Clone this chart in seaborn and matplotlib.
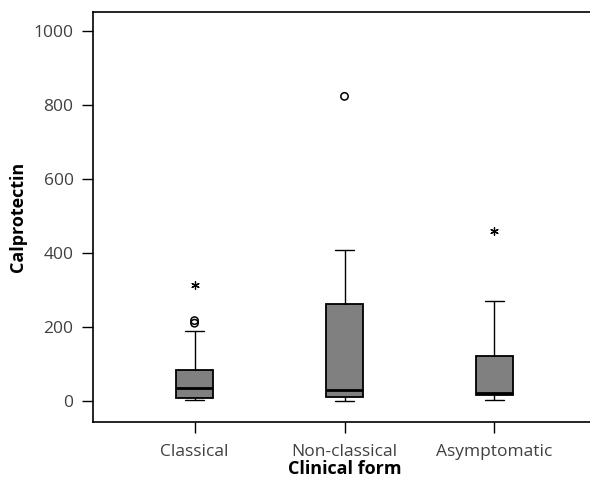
import matplotlib
matplotlib.use("Agg")
import matplotlib.pyplot as plt
import seaborn as sns
import pandas as pd

# Box statistics
groups = ["Classical", "Non-classical", "Asymptomatic"]
whisker_low = [3, 1, 3]
q1 = [8, 10, 16]
median = [36, 30, 22]
q3 = [83, 263, 121]
whisker_high = [188, 409, 271]

# outliers (circles) and extremes (stars)
outlier_group = ["Classical", "Classical", "Non-classical"]
outlier_value = [210, 217, 823]
extreme_group = ["Classical", "Asymptomatic"]
extreme_value = [313, 458]

sns.set_style("ticks")
plt.rcParams['font.family'] = ['Open Sans', 'DejaVu Sans']

fig = plt.figure(figsize=(5.9, 4.84), dpi=100)
ax = fig.add_axes([0.1576, 0.1281, 0.8526, 0.8471])

stats = []
for i, g in enumerate(groups):
    stats.append({
        'label': g,
        'whislo': whisker_low[i],
        'q1': q1[i],
        'med': median[i],
        'q3': q3[i],
        'whishi': whisker_high[i],
        'fliers': [],
    })

ax.bxp(stats, positions=range(len(groups)), widths=0.25, patch_artist=True,
       showfliers=False,
       boxprops=dict(facecolor='#808080', edgecolor='black', linewidth=1.3),
       medianprops=dict(color='black', linewidth=2),
       whiskerprops=dict(color='black', linewidth=1),
       capprops=dict(color='black', linewidth=1),
       capwidths=0.125)

pos = {g: i for i, g in enumerate(groups)}
out_df = pd.DataFrame({'x': [pos[g] for g in outlier_group], 'y': outlier_value})
ext_df = pd.DataFrame({'x': [pos[g] for g in extreme_group], 'y': extreme_value})
sns.scatterplot(data=out_df, x='x', y='y', ax=ax, marker='o', s=28,
                facecolor='none', edgecolor='black', linewidth=1.1, zorder=5)
sns.scatterplot(data=ext_df, x='x', y='y', ax=ax, marker=(6, 2, 0), s=30,
                color='black', linewidth=0.9, zorder=5)

ax.set_xlim(-0.677, 2.677)
ax.set_ylim(-57, 1051)
ax.set_yticks([0, 200, 400, 600, 800, 1000])
ax.set_xticks(range(len(groups)))
ax.set_xticklabels(groups)
ax.tick_params(axis='both', labelsize=12.5, labelcolor='#404040', length=8,
               width=1, color='black', direction='out')
ax.tick_params(axis='x', pad=8)
ax.tick_params(axis='y', pad=6)
ax.set_xlabel("Clinical form", fontsize=13, fontweight='bold',
              color='black', labelpad=0)
ax.set_ylabel("Calprotectin", fontsize=13, fontweight='bold',
              color='black', labelpad=5)

for side in ['left', 'top', 'bottom']:
    ax.spines[side].set_color('black')
    ax.spines[side].set_linewidth(1.2)
ax.spines['right'].set_visible(False)

fig.savefig("out.png", dpi=100)
